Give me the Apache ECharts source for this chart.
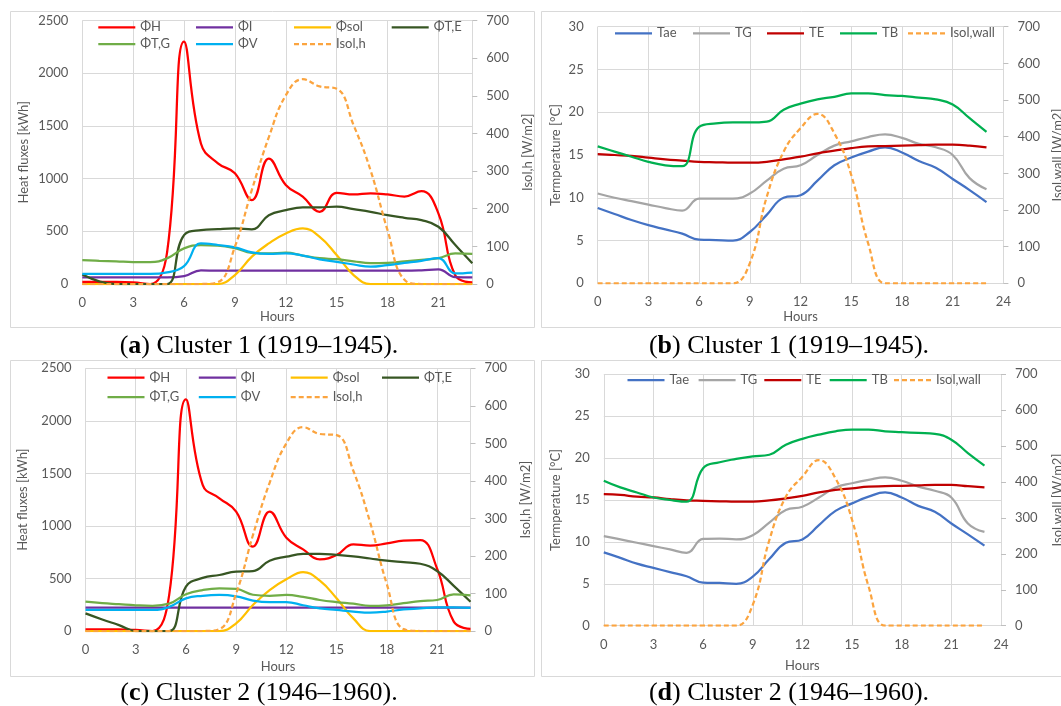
<!DOCTYPE html>
<html><head><meta charset="utf-8">
<script src="https://cdn.jsdelivr.net/npm/echarts@6/dist/echarts.min.js"></script>
<style>html,body{margin:0;padding:0;background:#fff;}#c{width:1061px;height:706px;}</style>
</head><body><div id="c"></div>
<script>
// ---------- DATA ----------
const hours = [0,1,2,3,4,5,6,7,8,9,10,11,12,13,14,15,16,17,18,19,20,21,22,23];

// (a) Cluster 1 heat fluxes [kWh], Isol,h [W/m2]
const a_PhiH   = [20,20,20,15,0,300,2300,1330,1145,1050,795,1190,940,830,685,865,850,860,850,830,880,670,80,15];
const a_PhiI   = [63,63,63,63,63,63,75,130,126,126,126,126,126,126,126,126,126,126,126,126,130,139,65,63];
const a_PhiSol = [0,0,0,0,0,0,0,0,0,85,260,385,480,527,448,275,85,0,0,0,0,0,0,0];
const a_PhiTE  = [90,25,0,0,0,0,464,511,521,527,518,653,700,726,726,735,710,685,653,628,606,543,370,196];
const a_PhiTG  = [227,220,215,208,208,243,338,370,365,340,295,290,297,270,245,235,215,198,200,215,230,245,290,285];
const a_PhiV   = [95,95,95,95,95,110,170,385,370,347,300,285,290,270,234,210,185,165,180,200,220,245,100,108];
const a_Isol   = [0,0,0,0,0,0,0,0,5,99,250,390,501,544,525,519,422,302,143,11,0,0,0,0];

// (b) Cluster 1 temperatures [°C], Isol,wall [W/m2]
const b_Tae = [8.8,8.1,7.4,6.8,6.3,5.8,5.1,5.05,5.0,6.0,8.0,10.0,10.3,12.0,13.8,14.7,15.4,15.9,15.3,14.3,13.5,12.2,10.9,9.5];
const b_TG  = [10.5,10.0,9.6,9.2,8.8,8.5,9.9,9.9,9.9,10.5,12.0,13.4,13.8,15.0,16.1,16.6,17.1,17.4,17.0,16.3,15.9,15.0,12.3,11.0];
const b_TE  = [15.1,15.0,14.9,14.7,14.5,14.35,14.2,14.15,14.1,14.1,14.2,14.5,14.8,15.2,15.5,15.8,16.0,16.05,16.1,16.15,16.2,16.2,16.1,15.9];
const b_TB  = [16.0,15.4,14.8,14.2,13.8,13.7,18.3,18.7,18.8,18.8,18.9,20.3,21.0,21.5,21.8,22.2,22.2,22.0,21.9,21.7,21.5,20.9,19.3,17.7];
const b_Iw  = [0,0,0,0,0,0,0,0,0,55,236,359,423,462,409,295,109,0,0,0,0,0,0,0];

// (c) Cluster 2 heat fluxes
const c_PhiH   = [15,15,15,10,0,343,2205,1390,1263,1136,803,1136,888,777,682,723,825,812,834,860,866,596,89,20];
const c_PhiI   = [222,222,222,222,222,222,222,222,222,222,222,222,222,222,222,222,222,222,222,222,222,222,222,222];
const c_PhiSol = [0,0,0,0,0,0,0,0,0,73,247,390,492,561,479,311,120,0,0,0,0,0,0,0];
const c_PhiTE  = [168,110,56,0,0,0,422,505,533,565,570,669,707,733,735,725,710,690,670,655,640,571,430,279];
const c_PhiTG  = [279,265,255,245,240,260,349,390,406,400,345,335,343,325,295,275,260,240,245,265,285,295,349,340];
const c_PhiV   = [200,200,200,200,200,230,311,335,343,330,290,275,275,245,215,200,185,175,185,205,215,225,225,220];
const c_Isol   = [0,0,0,0,0,0,0,0,5,100,255,395,500,543,525,522,427,290,125,5,0,0,0,0];

// (d) Cluster 2 temperatures
const d_Tae = [8.75,8.1,7.4,6.9,6.4,5.9,5.15,5.1,5.0,5.85,7.95,9.9,10.3,12.0,13.7,14.6,15.4,15.9,15.3,14.3,13.6,12.2,10.9,9.55];
const d_TG  = [10.7,10.3,9.9,9.5,9.1,8.7,10.35,10.4,10.3,10.8,12.3,13.8,14.2,15.3,16.5,17.0,17.4,17.7,17.3,16.6,16.1,15.3,12.2,11.2];
const d_TE  = [15.7,15.6,15.4,15.3,15.1,14.95,14.9,14.85,14.8,14.8,14.95,15.2,15.5,15.9,16.2,16.4,16.6,16.65,16.7,16.75,16.8,16.8,16.65,16.5];
const d_TB  = [17.3,16.5,15.9,15.3,15.0,14.8,18.8,19.5,19.9,20.2,20.4,21.6,22.3,22.8,23.2,23.4,23.4,23.2,23.1,23.0,22.9,22.2,20.6,19.1];
const d_Iw  = [0,0,0,0,0,0,0,0,0,58,238,359,415,461,410,295,109,0,0,0,0,0,0,0];

const fluxNames = ['ΦH','ΦI','Φsol','ΦT,E','ΦT,G','ΦV','Isol,h'];
const tempNames = ['Tae','TG','TE','TB','Isol,wall'];
const captions = ['Cluster 1 (1919–1945).','Cluster 1 (1919–1945).','Cluster 2 (1946–1960).','Cluster 2 (1946–1960).'];
const captionLetters = ['a','b','c','d'];

// ---------- STYLE ----------
const fluxColors = ['#ff0000','#7030a0','#ffc000','#375623','#70ad47','#00b0f0','#fba43f'];
const tempColors = ['#4472c4','#a5a5a5','#c00000','#00b050','#fba43f'];
const FONT = 'Lato';
const TXT = '#595959';
const GRIDC = '#d9d9d9';
const ICON_SOLID = 'path://M0,0H37V2.25H0Z';
const ICON_DASH = 'path://M0,0h5v2.25h-5zM8,0h5v2.25h-5zM16,0h5v2.25h-5zM24,0h5v2.25h-5zM32,0h5v2.25h-5z';
const plain = v => String(v);

const chart = echarts.init(document.getElementById('c'), null, {renderer:'canvas'});

const grids = [
  {left:82.3, top:20.5, width:390, height:263.5},
  {left:597.7, top:26.7, width:405.7, height:256.6},
  {left:85.5, top:368.3, width:385, height:262.7},
  {left:603.8, top:374.3, width:397.2, height:251.4}
];
grids.forEach(g => { g.outerBoundsMode = 'none'; g.containLabel = false; });

const xCfg = [
  {max:23, gap:26, lab:12, hideMax:true},
  {max:24, gap:27, lab:12, hideMax:false},
  {max:23, gap:29, lab:12, hideMax:true},
  {max:24, gap:34, lab:13, hideMax:false}
];
const xAxes = xCfg.map((c,i) => ({
  type:'value', gridIndex:i, min:0, max:c.max, interval:3,
  axisLine:{show:true, lineStyle:{color:GRIDC, width:1}},
  axisTick:{show:false},
  axisLabel:{color:TXT, fontFamily:FONT, fontSize:13, margin:c.lab, showMaxLabel:!c.hideMax, formatter:plain},
  splitLine:{show:true, lineStyle:{color:GRIDC, width:1}},
  name:'Hours', nameLocation:'middle', nameGap:c.gap,
  nameTextStyle:{color:TXT, fontFamily:FONT, fontSize:13}
}));

function leftY(i, max, interval, name, gap) {
  return {type:'value', gridIndex:i, position:'left', min:0, max:max, interval:interval,
    axisLine:{show:false}, axisTick:{show:false},
    axisLabel:{color:TXT, fontFamily:FONT, fontSize:13, margin:14, formatter:plain},
    splitLine:{show:true, lineStyle:{color:GRIDC, width:1}},
    name:name, nameLocation:'middle', nameRotate:90, nameGap:gap,
    nameTextStyle:{color:TXT, fontFamily:FONT, fontSize:13}};
}
function rightY(i, name, gap) {
  return {type:'value', gridIndex:i, position:'right', min:0, max:700, interval:100,
    axisLine:{show:false},
    axisTick:{show:true, inside:false, length:5, lineStyle:{color:'#bfbfbf'}},
    axisLabel:{color:TXT, fontFamily:FONT, fontSize:13, margin:14, formatter:plain},
    splitLine:{show:false},
    name:name, nameLocation:'middle', nameRotate:90, nameGap:gap,
    nameTextStyle:{color:TXT, fontFamily:FONT, fontSize:13}};
}
const yAxes = [
  leftY(0, 2500, 500, 'Heat fluxes [kWh]', 52), rightY(0, 'Isol,h [W/m2]', 49),
  leftY(1, 30, 5, 'Termperature [°C]', 35),     rightY(1, 'Isol,wall [W/m2]', 48),
  leftY(2, 2500, 500, 'Heat fluxes [kWh]', 56), rightY(2, 'Isol,h [W/m2]', 49),
  leftY(3, 30, 5, 'Termperature [°C]', 41),     rightY(3, 'Isol,wall [W/m2]', 50)
];

function mk(name, vals, color, xi, yi, dashed) {
  return {type:'line', name:name, xAxisIndex:xi, yAxisIndex:yi,
    data: hours.map((h,k) => [h, vals[k]]),
    smooth:0.45, symbol:'none', showSymbol:false,
    lineStyle:{color:color, width:2.25, type: dashed ? [5,3] : 'solid'},
    itemStyle:{color:color}, emphasis:{disabled:true}, animation:false};
}
const series = [];
const fluxSets = [[a_PhiH,a_PhiI,a_PhiSol,a_PhiTE,a_PhiTG,a_PhiV,a_Isol],[c_PhiH,c_PhiI,c_PhiSol,c_PhiTE,c_PhiTG,c_PhiV,c_Isol]];
const tempSets = [[b_Tae,b_TG,b_TE,b_TB,b_Iw],[d_Tae,d_TG,d_TE,d_TB,d_Iw]];
[[0,0],[1,2]].forEach(([s,g]) => {
  fluxNames.forEach((n,k) => series.push(mk(n, fluxSets[s][k], fluxColors[k], g, g*2 + (k===6?1:0), k===6)));
});
[[0,1],[1,3]].forEach(([s,g]) => {
  tempNames.forEach((n,k) => series.push(mk(n, tempSets[s][k], tempColors[k], g, g*2 + (k===4?1:0), k===4)));
});

// legends: [name, left, centerY]
const legendPos = [
  ['ΦH',98.3,27.3],['ΦI',196,27.3],['Φsol',294,27.3],['ΦT,E',391.7,27.3],
  ['ΦT,G',98.3,44],['ΦV',196,44],['Isol,h',294,44],
  ['Tae',615,33.3],['TG',693,33.3],['TE',767,33.3],['TB',840,33.3],['Isol,wall',908,33.3],
  ['ΦH',107.5,377.7],['ΦI',198.8,377.7],['Φsol',290.7,377.7],['ΦT,E',382,377.7],
  ['ΦT,G',107.5,397],['ΦV',198.8,397],['Isol,h',290.7,397],
  ['Tae',627.5,380],['TG',698.6,380],['TE',764.3,380],['TB',829.7,380],['Isol,wall',894,380]
];
const legends = legendPos.map(([n,l,cy]) => ({
  data:[{name:n, icon:(n.indexOf('Isol') === 0 ? ICON_DASH : ICON_SOLID)}],
  left:l, top:cy-6.5, itemWidth:37, itemHeight:2.25, itemGap:0, padding:0,
  selectedMode:false, textStyle:{color:TXT, fontFamily:FONT, fontSize:13}
}));

// panel frames + captions
const frames = [[10.5,11.5,524,316],[541.5,11.5,530,316],[10.5,360.5,524,316],[541.5,360.5,530,316]];
const capPos = [[259,346],[789,346],[259,693],[789,693]];
const graphic = [];
frames.forEach(f => graphic.push({type:'rect', silent:true, z:-10,
  shape:{x:f[0], y:f[1], width:f[2], height:f[3]},
  style:{fill:'#fff', stroke:GRIDC, lineWidth:1}}));
capPos.forEach((p,i) => graphic.push({type:'text', silent:true, x:p[0], y:p[1],
  style:{text:'({b|' + captionLetters[i] + '}) ' + captions[i],
    fontFamily:'Liberation Serif', fontSize:26, fill:'#000',
    align:'center', verticalAlign:'middle',
    rich:{b:{fontFamily:'Liberation Serif', fontSize:26, fontWeight:'bold', fill:'#000'}}}}));

chart.setOption({
  backgroundColor:'#fff',
  animation:false,
  grid:grids, xAxis:xAxes, yAxis:yAxes, legend:legends, series:series, graphic:graphic
});
</script></body></html>
